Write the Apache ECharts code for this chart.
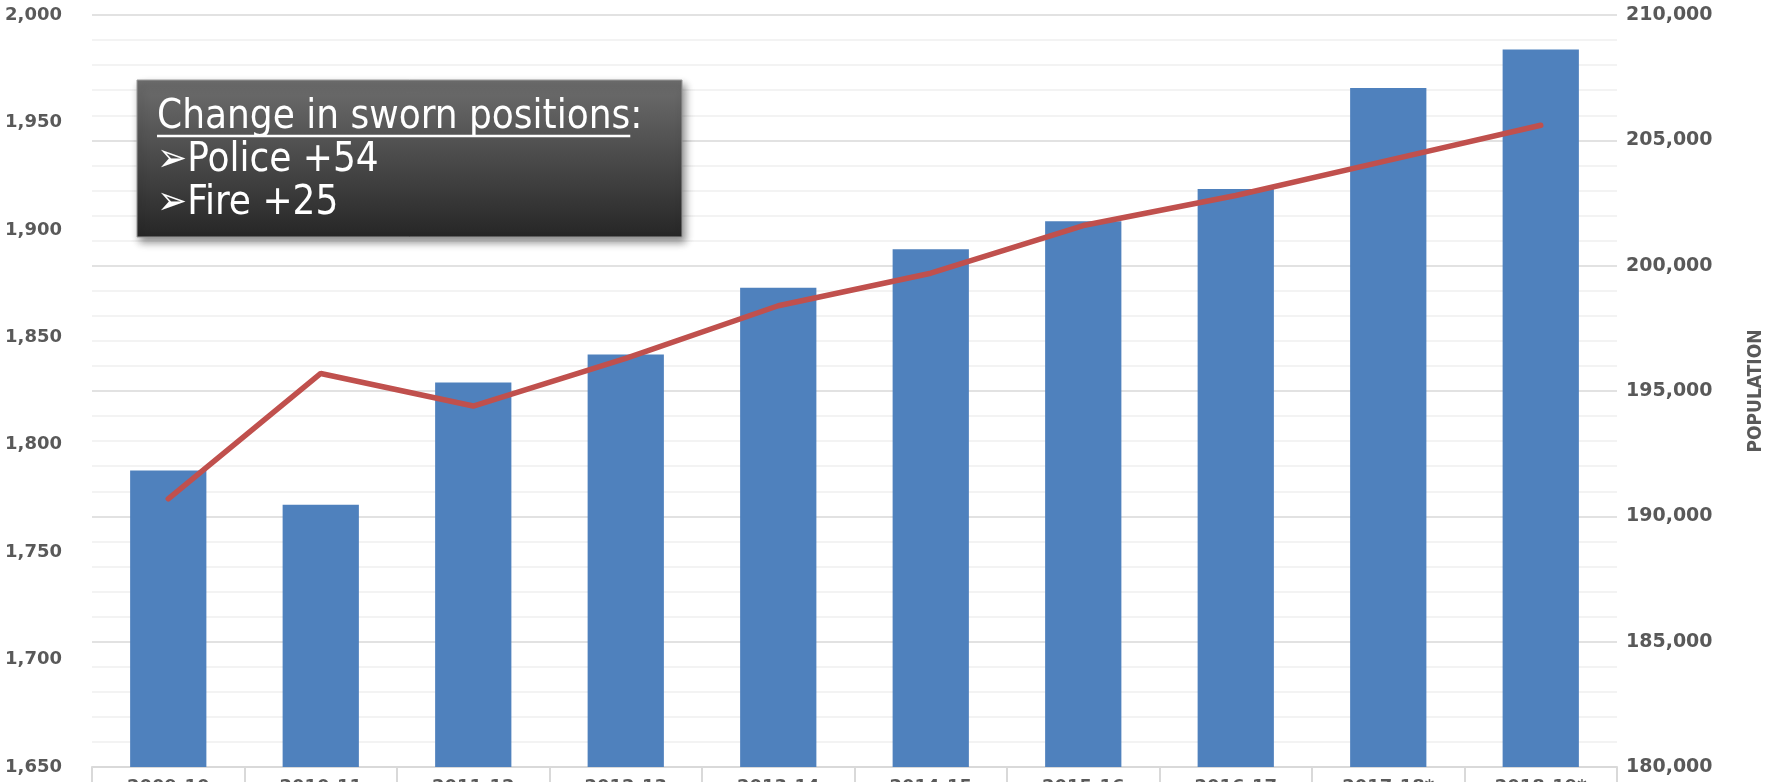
<!DOCTYPE html>
<html>
<head>
<meta charset="utf-8">
<title>Sworn positions and population</title>
<script src="https://cdn.jsdelivr.net/npm/echarts@6/dist/echarts.min.js"></script>
<style>
  html, body { margin: 0; padding: 0; background: #fff; }
  #chart { width: 1777px; height: 782px; }
</style>
</head>
<body>
<div id="chart"></div>
<script>
// data
const years = ['2009-10', '2010-11', '2011-12', '2012-13', '2013-14', '2014-15', '2015-16', '2016-17', '2017-18*', '2018-19*']
const swornPositions = [1788, 1772, 1829, 1842, 1873, 1891, 1904, 1919, 1966, 1984]
const population = [190700, 195700, 194400, 196300, 198400, 199700, 201600, 202800, 204200, 205600]
const noteTitle = 'Change in sworn positions'
const noteLines = ['➢Police +54', '➢Fire +25']

const fmt = v => v.toLocaleString('en-US')
const axisText = { color: '#595959', fontFamily: 'DejaVu Sans', fontWeight: 'bold', fontSize: 18 }
const noteFont = 'DejaVu Sans Condensed'

// width of the underlined part of the note title
const ctx = document.createElement('canvas').getContext('2d')
ctx.font = '40px "' + noteFont + '"'
const titleWidth = ctx.measureText(noteTitle).width

const myChart = echarts.init(document.getElementById('chart'))

myChart.setOption({
  animation: false,
  grid: {
    left: 92,
    right: 160,
    top: 15,
    bottom: 15,
    outerBoundsMode: 'none',
    containLabel: false
  },
  xAxis: {
    type: 'category',
    data: years,
    axisLine: { lineStyle: { color: '#D9D9D9', width: 2 } },
    axisTick: { show: true, length: 24, lineStyle: { color: '#D9D9D9', width: 2 } },
    axisLabel: { ...axisText, margin: 11 }
  },
  yAxis: [
    {
      type: 'value',
      min: 1650,
      max: 2000,
      interval: 50,
      splitLine: { show: false },
      axisLine: { show: false },
      axisTick: { show: false },
      axisLabel: { ...axisText, margin: 30, formatter: fmt }
    },
    {
      type: 'value',
      min: 180000,
      max: 210000,
      interval: 5000,
      name: 'POPULATION',
      nameLocation: 'middle',
      nameRotate: 90,
      nameGap: 130,
      nameTextStyle: { color: '#595959', fontFamily: 'DejaVu Sans Condensed', fontWeight: 'bold', fontSize: 19 },
      splitLine: { show: true, lineStyle: { color: '#D9D9D9', width: 1.5 } },
      minorTick: { show: false, splitNumber: 5 },
      minorSplitLine: { show: true, lineStyle: { color: '#F0F0F0', width: 1.5 } },
      axisLine: { show: false },
      axisTick: { show: false },
      axisLabel: { ...axisText, fontSize: 19, margin: 9, formatter: fmt }
    }
  ],
  series: [
    {
      name: 'Sworn positions',
      type: 'bar',
      yAxisIndex: 0,
      data: swornPositions,
      barWidth: '50%',
      itemStyle: { color: '#4F81BD' }
    },
    {
      name: 'Population',
      type: 'line',
      yAxisIndex: 1,
      data: population,
      symbol: 'none',
      z: 5,
      lineStyle: { color: '#C0504D', width: 5.5, cap: 'round' }
    }
  ],
  graphic: [
    {
      type: 'rect',
      z: 100,
      shape: { x: 137, y: 80, width: 545, height: 157 },
      style: {
        fill: new echarts.graphic.LinearGradient(0, 0, 0, 1, [
          { offset: 0, color: '#6E6E6E' },
          { offset: 0.5, color: '#4A4A4A' },
          { offset: 1, color: '#262626' }
        ]),
        stroke: '#9A9A9A',
        lineWidth: 1,
        shadowBlur: 8,
        shadowOffsetX: 3,
        shadowOffsetY: 5,
        shadowColor: 'rgba(0,0,0,0.45)'
      }
    },
    {
      type: 'text',
      z: 101,
      x: 157,
      y: 118,
      style: { text: noteTitle + ':', fill: '#fff', font: '40px "' + noteFont + '"', verticalAlign: 'middle' }
    },
    {
      type: 'line',
      z: 101,
      shape: { x1: 157, y1: 136, x2: 157 + titleWidth, y2: 136 },
      style: { stroke: '#fff', lineWidth: 2.5 }
    },
    {
      type: 'text',
      z: 101,
      x: 157,
      y: 161,
      style: { text: noteLines[0], fill: '#fff', font: '40px "' + noteFont + '"', verticalAlign: 'middle' }
    },
    {
      type: 'text',
      z: 101,
      x: 157,
      y: 204,
      style: { text: noteLines[1], fill: '#fff', font: '40px "' + noteFont + '"', verticalAlign: 'middle' }
    }
  ]
})
</script>
</body>
</html>
